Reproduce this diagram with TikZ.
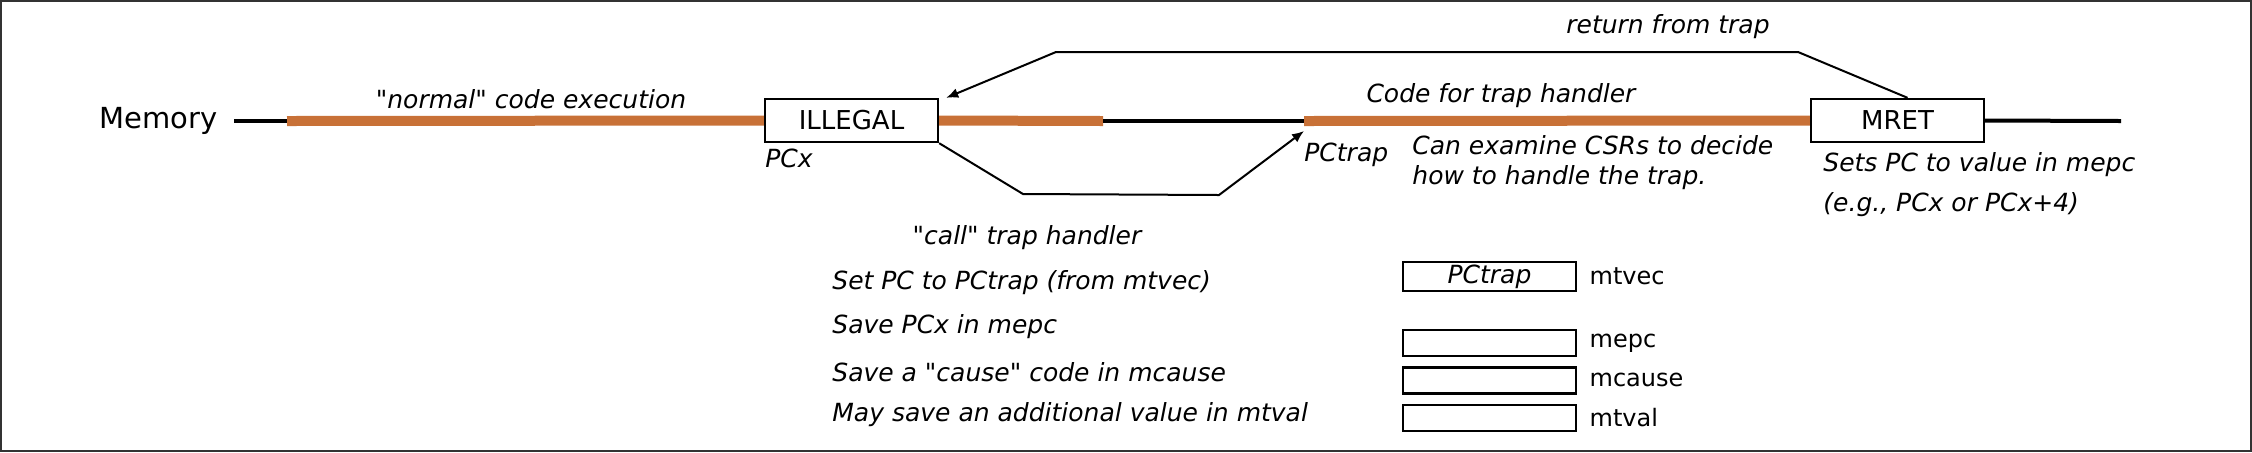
\documentclass[tikz,border=0pt]{standalone}
\usepackage{fontspec}
\setmainfont{DejaVu Sans}[ItalicFont={DejaVu Sans Oblique}]
\usepackage{xcolor}
\usetikzlibrary{arrows.meta,positioning}
\definecolor{codeorange}{RGB}{200,113,55}

\begin{document}
\begin{tikzpicture}[
    x=0.5pt, y=-0.5pt,
    node distance=4.5pt,
    box/.style={rectangle, draw, line width=1.2pt, minimum width=86.5pt, minimum height=21.5pt, inner sep=0pt, font=\fontsize{13}{15}\selectfont},
    reg/.style={rectangle, draw, line width=1.2pt, minimum width=86.5pt, minimum height=13pt, inner sep=0pt, font=\fontsize{12.5}{15}\selectfont\itshape},
    note/.style={inner sep=0pt, font=\fontsize{12.5}{15}\selectfont\itshape},
    regname/.style={inner sep=0pt, font=\fontsize{12}{14}\selectfont},
    mem/.style={line width=2pt},
    code/.style={line width=5pt, draw=codeorange},
    arr/.style={-{Latex[length=6pt,width=5pt]}, line width=1pt}
]
\useasboundingbox (0,0) rectangle (2252,452);
\draw[line width=1pt, black!80] (1,1) rectangle (2251,451);

% memory line
\node[box] (illegal) at (851.5,120.5) {ILLEGAL};
\node[box] (mret) at (1897.5,120.5) {MRET};
\coordinate (m0) at (234,121);
\coordinate (c1) at (287,121);
\coordinate (c2) at (1103,121);
\coordinate (trap) at (1304,121);
\coordinate (trapin) at (1304,131);
\coordinate (m1) at (2121,121);
\node[inner sep=0pt, font=\fontsize{14.5}{17}\selectfont, left=8pt of m0] (memory) {Memory};

\draw[mem] (m0) -- (c1);
\draw[code] (c1) -- (illegal.west);
\draw[code] (illegal.east) -- (c2);
\draw[mem] (c2) -- (trap);
\draw[code] (trap) -- (mret.west);
\draw[mem] (mret.east) -- (m1);

% labels on the line
\node[note] (normal) at (531,99) {\textquotedbl normal\textquotedbl{} code execution};
\node[note] (handler) at (1501,96) {Code for trap handler};
\node[note] (retlbl) at (1668,27) {return from trap};
\node[note, anchor=west] (pcx) at (765,158) {PCx};
\node[note, anchor=west] (pctrap) at (1304,155) {PCtrap};
\node[note, anchor=west, align=left] (examine) at (1412,163) {Can examine CSRs to decide\\how to handle the trap.};
\node[note, anchor=west] (setspc) at (1823,165) {Sets PC to value in mepc};
\node[note, anchor=west] (eg) at (1823,205) {(e.g., PCx or PCx+4)};

% jumps
\draw[arr] (illegal.south east) -- (1023,194) -- (1219,195) -- (trapin);
\draw[arr] ([xshift=5pt]mret.north) -- (1798,52) -- (1056,52) -- ([xshift=3.5pt]illegal.north east);

% what the call does
\node[note] (calllbl) at (1027,238) {\textquotedbl call\textquotedbl{} trap handler};
\node[note, anchor=west] (do1) at (832,283) {Set PC to PCtrap (from mtvec)};
\node[note, anchor=west] (do2) at (832,327) {Save PCx in mepc};
\node[note, anchor=west] (do3) at (832,372) {Save a \textquotedbl cause\textquotedbl{} code in mcause};
\node[note, anchor=west] (do4) at (832,415) {May save an additional value in mtval};

% CSRs
\node[reg, minimum height=14.5pt] (mtvec) at (1489.5,276.5) {PCtrap};
\node[reg, below=18.3pt of mtvec] (mepc) {};
\node[reg, below=of mepc] (mcause) {};
\node[reg, below=of mcause] (mtval) {};
\foreach \r in {mtvec, mepc, mcause, mtval}
  \node[regname, right=6pt of \r] (\r name) {\r};
\end{tikzpicture}
\end{document}
